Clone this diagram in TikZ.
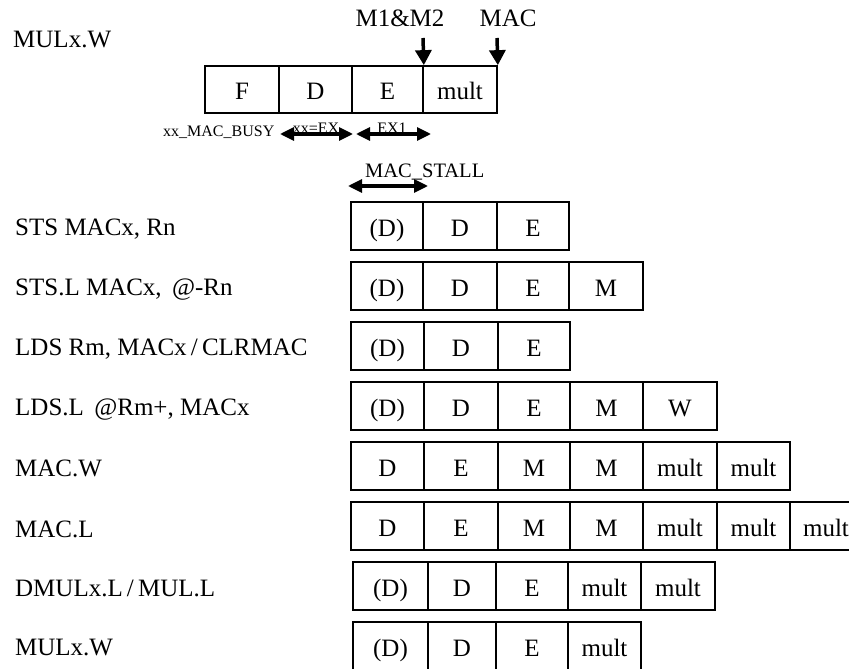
\documentclass[tikz,border=0pt]{standalone}
\usepackage{fontspec}
\setmainfont{Liberation Serif}
\usetikzlibrary{arrows.meta}
\newcommand\pipeline[3]{%
  \foreach \a/\b/\txt [count=\i] in {#3} {%
    \node[cell,minimum width={(\b-\a)*1pt}] (#1\i) at ({(\a+\b)/2},{#2+24}) {\txt};
  }}
\begin{document}
\begin{tikzpicture}[x=1pt,y=-1pt,
  cell/.style={draw,line width=1.7pt,inner sep=0pt,minimum height=48pt,text height=20pt,text depth=0pt,font=\fontsize{25}{30}\selectfont},
  lbl/.style={anchor=base west,inner sep=0pt,font=\fontsize{25}{30}\selectfont},
  big/.style={anchor=base,inner sep=0pt,font=\fontsize{25}{30}\selectfont},
  mid/.style={anchor=base west,inner sep=0pt,font=\fontsize{20.5}{24}\selectfont},
  small/.style={inner sep=0pt,font=\fontsize{16}{19}\selectfont},
  varrow/.style={line width=3.5pt,-{Triangle[length=15pt,width=16pt]}},
  harrow/.style={line width=3.2pt,{Triangle[length=14pt,width=13pt]}-{Triangle[length=14pt,width=13pt]}},
]
\useasboundingbox (0,0) rectangle (849,669);
\clip (0,0) rectangle (849,669);

% top pipeline
\node[lbl] (topl) at (13,48) {MULx.W};
\foreach \a/\b/\txt [count=\i] in {205/279/F,279/352/D,352/423/E,423/497/mult} {
  \node[cell,minimum height=47pt,minimum width={(\b-\a)*1pt}] (t\i) at ({(\a+\b)/2},89.5) {\txt};
}
\node[big] (m12) at (400,27) {M1\&M2};
\node[big] (mac) at (508,27) {MAC};
\coordinate (m12s) at (423,38);
\coordinate (macs) at (497,38);
\draw[varrow] (m12s) -- (t3.north east);
\draw[varrow] (macs) -- (t4.north east);

% sub-labels
\node[small,anchor=base west] (busy) at (163,136) {xx\_MAC\_BUSY};
\coordinate (ex0a) at (280,134);
\coordinate (ex0b) at (353,134);
\draw[harrow] (ex0a) -- (ex0b);
\node[small,anchor=base] (xxex) at (316,133) {xx=EX};
\coordinate (ex1a) at (356,134);
\coordinate (ex1b) at (431,134);
\draw[harrow] (ex1a) -- (ex1b);
\node[small,anchor=base] (exone) at (392,133) {EX1};
\node[mid] (stall) at (365,177) {MAC\_STALL};
\coordinate (sta) at (348,186);
\coordinate (stb) at (428,186);
\draw[harrow] (sta) -- (stb);

% rows
\node[lbl] (l1) at (15,235) {STS MACx, Rn};
\pipeline{ra}{202}{351/423/(D),423/497/D,497/569/E}
\node[lbl] (l2) at (15,295) {STS.L MACx,\, @-Rn};
\pipeline{rb}{262}{351/423/(D),423/497/D,497/569/E,569/643/M}
\node[lbl] (l3) at (15,355) {LDS Rm, MACx\,/\,CLRMAC};
\pipeline{rc}{322}{351/424/(D),424/498/D,498/570/E}
\node[lbl] (l4) at (15,415) {LDS.L \,@Rm+, MACx};
\pipeline{rd}{382}{351/424/(D),424/498/D,498/570/E,570/643/M,643/717/W}
\node[lbl] (l5) at (15,476) {MAC.W};
\pipeline{re}{442}{351/424/D,424/498/E,498/570/M,570/643/M,643/717/mult,717/790/mult}
\node[lbl] (l6) at (15,537) {MAC.L};
\pipeline{rf}{502}{351/424/D,424/498/E,498/570/M,570/643/M,643/717/mult,717/790/mult,790/862/mult}
\node[lbl] (l7) at (15,596) {DMULx.L\,/\,MUL.L};
\pipeline{rg}{562}{353/428/(D),428/496/D,496/568/E,568/641/mult,641/715/mult}
\node[lbl] (l8) at (15,655) {MULx.W};
\pipeline{rh}{622}{353/428/(D),428/496/D,496/568/E,568/641/mult}
\end{tikzpicture}
\end{document}
